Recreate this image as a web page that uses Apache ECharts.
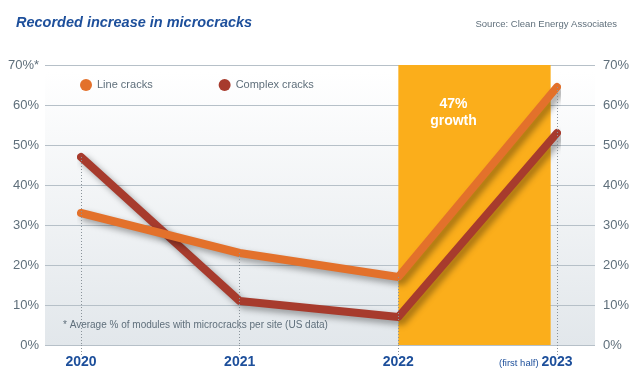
<!DOCTYPE html>
<html lang="en">
<head>
	<meta charset="utf-8">
	<title>Recorded increase in microcracks</title>
	<script src="https://cdn.jsdelivr.net/npm/echarts@6/dist/echarts.min.js"></script>
	<style>
		html, body { margin: 0; padding: 0; background: #fff; }
		#main { width: 633px; height: 377px; }
	</style>
</head>
<body>
	<div id="main"></div>
	<script type="text/javascript">
		// years on the x axis
		var years = [2020, 2021, 2022, 2023];
		// % of modules with microcracks
		var lineCracks = [33, 23, 17, 64.5];
		var complexCracks = [47, 11, 7, 53];
		// y ticks
		var yTicks = [0, 10, 20, 30, 40, 50, 60, 70];
		// highlighted period
		var growthSpan = [2022, 2022.96];

		var font = '"Liberation Sans", Arial, sans-serif';
		var blue = '#1D4F9B';
		var grey = '#5F6F7B';

		function pairs(vals) {
			return years.map(function (y, i) { return [y, vals[i]]; });
		}

		// dotted drop lines from the highest point of each year
		var dropLines = years.map(function (y, i) {
			return [{ coord: [y, Math.max(lineCracks[i], complexCracks[i])] }, { coord: [y, 0] }];
		});

		var lineShadow = { shadowColor: 'rgba(0,0,0,0.35)', shadowBlur: 6, shadowOffsetX: 4, shadowOffsetY: 4 };

		var myChart = echarts.init(document.getElementById('main'));
		var option = {
			backgroundColor: '#fff',
			animation: false,
			textStyle: { fontFamily: font },
			title: [
				{
					text: 'Recorded increase in microcracks',
					left: 11, top: 10,
					textStyle: { fontFamily: font, fontSize: 14.5, fontWeight: 'bold', fontStyle: 'italic', color: blue }
				},
				{
					text: 'Source: Clean Energy Associates',
					right: 11, top: 14,
					textStyle: { fontFamily: font, fontSize: 9.5, fontWeight: 'normal', color: grey }
				}
			],
			legend: {
				left: 75, top: 74,
				icon: 'circle',
				itemWidth: 12, itemHeight: 12,
				itemGap: 66,
				textStyle: { fontFamily: font, fontSize: 11, color: grey },
				data: ['Line cracks', 'Complex cracks']
			},
			grid: [
				{ left: 45, right: 38, top: 72, bottom: 32, show: true, borderWidth: 0,
					backgroundColor: new echarts.graphic.LinearGradient(0, 0, 0, 1, [
						{ offset: 0, color: '#FFFFFF' }, { offset: 1, color: '#E2E7EB' }]) },
				{ left: 45, right: 38, top: 65, bottom: 32 },
				{ left: 81, right: 76, top: 65, bottom: 32 }
			],
			xAxis: [
				{ gridIndex: 0, type: 'value', show: false, min: 0, max: 1 },
				{ gridIndex: 1, type: 'value', show: false, min: 0, max: 1 },
				{
					gridIndex: 2, type: 'value', min: years[0], max: years[years.length - 1], interval: 1,
					axisLine: { show: false },
					splitLine: { show: false },
					axisTick: { show: true, length: 10, lineStyle: { color: '#8a939a', type: [1, 2] } },
					axisLabel: { margin: 10, fontFamily: font, fontSize: 14, fontWeight: 'bold', color: blue,
						formatter: function (v) { return String(v); } }
				}
			],
			yAxis: [
				{ gridIndex: 0, type: 'value', show: false, min: 0, max: 70 },
				{
					gridIndex: 1, type: 'value', position: 'left', min: yTicks[0], max: yTicks[yTicks.length - 1], interval: 10,
					axisLine: { show: false }, axisTick: { show: false },
					splitLine: { lineStyle: { color: '#B6C0C8', width: 1 } },
					axisLabel: { margin: 6, fontFamily: font, fontSize: 13, color: grey,
						formatter: function (v) { return v === 70 ? v + '%*' : v + '%'; } }
				},
				{
					gridIndex: 1, type: 'value', position: 'right', min: yTicks[0], max: yTicks[yTicks.length - 1], interval: 10,
					axisLine: { show: false }, axisTick: { show: false }, splitLine: { show: false },
					axisLabel: { margin: 8, fontFamily: font, fontSize: 13, color: grey, formatter: '{value}%' }
				},
				{ gridIndex: 2, type: 'value', show: false, min: 0, max: 70 }
			],
			series: [
				{
					name: 'growth', type: 'line', xAxisIndex: 2, yAxisIndex: 3, z: 1,
					data: [], silent: true,
					markArea: {
						silent: true,
						itemStyle: { color: '#FBAE1B' },
						label: {
							show: true, position: 'insideTop', offset: [-21, 26],
							formatter: '47%\ngrowth', color: '#fff', fontFamily: font,
							fontSize: 14, fontWeight: 'bold', lineHeight: 17
						},
						data: [[{ coord: [growthSpan[0], 0] }, { coord: [growthSpan[1], 70] }]]
					},
					markLine: {
						silent: true, symbol: 'none',
						label: { show: false },
						lineStyle: { color: '#8a939a', type: [1, 2], width: 1 },
						data: dropLines
					}
				},
				{
					name: 'Line cracks', type: 'line', xAxisIndex: 2, yAxisIndex: 3, z: 4,
					data: pairs(lineCracks),
					symbol: 'none',
					itemStyle: { color: '#E3712B' },
					lineStyle: Object.assign({ width: 8, color: '#E3712B', cap: 'round', join: 'round' }, lineShadow)
				},
				{
					name: 'Complex cracks', type: 'line', xAxisIndex: 2, yAxisIndex: 3, z: 3,
					data: pairs(complexCracks),
					symbol: 'none',
					itemStyle: { color: '#A73B2D' },
					lineStyle: Object.assign({ width: 8, color: '#A73B2D', cap: 'round', join: 'round' }, lineShadow)
				}
			],
			graphic: [
				{
					type: 'text', left: 63, top: 320,
					style: { text: '* Average % of modules with microcracks per site (US data)', fill: grey,
						font: '10px ' + font }
				},
				{
					type: 'text', left: 499, top: 358,
					style: { text: '(first half)', fill: blue, font: '9.5px ' + font }
				}
			]
		};
		myChart.setOption(option);
	</script>
</body>
</html>
